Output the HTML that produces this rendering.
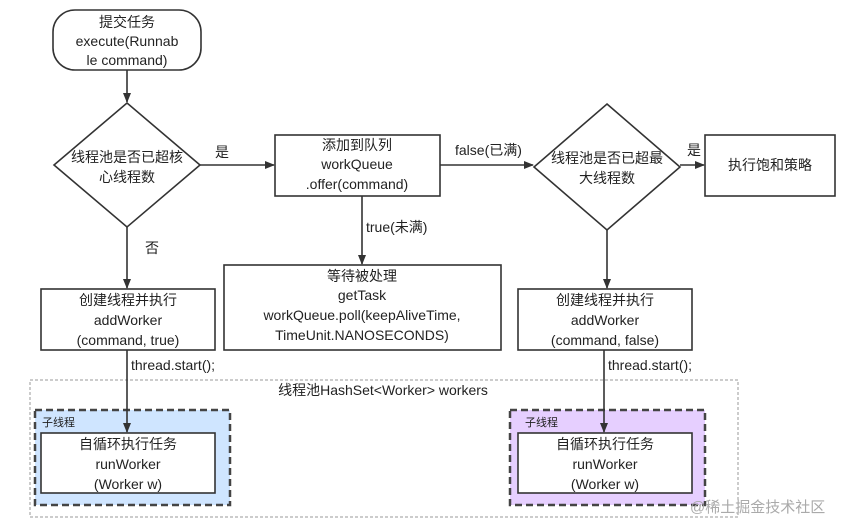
<!DOCTYPE html>
<html><head><meta charset="utf-8"><style>
body{margin:0;width:866px;height:532px;background:#fff;overflow:hidden}
svg{display:block}
text{font-family:"Liberation Sans","Noto Sans CJK SC",sans-serif;font-size:14px;fill:#222}
</style></head><body>
<svg width="866" height="532" viewBox="0 0 866 532">
<defs><marker id="a" markerWidth="10" markerHeight="10" refX="9" refY="5" orient="auto" markerUnits="userSpaceOnUse"><path d="M0,1 L10,5 L0,9 z" fill="#333"/></marker></defs>
<g stroke="#333" stroke-width="1.6" fill="#fff">
<rect x="53" y="10" width="148" height="60" rx="22"/>
<polygon points="127,103 200,165 127,227 54,165"/>
<rect x="275" y="135" width="165" height="61"/>
<rect x="224" y="265" width="277" height="85"/>
<polygon points="607,104 680,167 607,230 534,167"/>
<rect x="705" y="135" width="130" height="61"/>
<rect x="41" y="289" width="174" height="61"/>
<rect x="518" y="289" width="174" height="61"/>
</g>
<rect x="30" y="380" width="708" height="137" fill="none" stroke="#999" stroke-width="1" stroke-dasharray="3,2"/>
<rect x="35" y="410" width="195" height="95" fill="#cfe5ff" stroke="#444" stroke-width="2.5" stroke-dasharray="7,4"/>
<rect x="510" y="410" width="195" height="95" fill="#e6cfff" stroke="#444" stroke-width="2.5" stroke-dasharray="7,4"/>
<g stroke="#333" stroke-width="1.6" fill="#fff">
<rect x="41" y="433" width="174" height="60"/>
<rect x="518" y="433" width="174" height="60"/>
</g>
<g stroke="#333" stroke-width="1.6" fill="none" marker-end="url(#a)">
<line x1="127" y1="70" x2="127" y2="102"/>
<line x1="200" y1="165" x2="274" y2="165"/>
<line x1="127" y1="227" x2="127" y2="288"/>
<line x1="362" y1="196" x2="362" y2="264"/>
<line x1="440" y1="165" x2="533" y2="165"/>
<line x1="680" y1="165" x2="704" y2="165"/>
<line x1="607" y1="230" x2="607" y2="288"/>
<line x1="127" y1="350" x2="127" y2="432"/>
<line x1="604" y1="350" x2="604" y2="432"/>
</g>
<g text-anchor="middle">
<text x="127" y="27">提交任务</text>
<text x="127" y="46">execute(Runnab</text>
<text x="127" y="65">le command)</text>
<text x="127" y="162">线程池是否已超核</text>
<text x="127" y="182">心线程数</text>
<text x="357" y="150">添加到队列</text>
<text x="357" y="169">workQueue</text>
<text x="357" y="189">.offer(command)</text>
<text x="362" y="281">等待被处理</text>
<text x="362" y="300">getTask</text>
<text x="362" y="320">workQueue.poll(keepAliveTime,</text>
<text x="362" y="340">TimeUnit.NANOSECONDS)</text>
<text x="607" y="163">线程池是否已超最</text>
<text x="607" y="183">大线程数</text>
<text x="770" y="170">执行饱和策略</text>
<text x="128" y="305">创建线程并执行</text>
<text x="128" y="325">addWorker</text>
<text x="128" y="345">(command, true)</text>
<text x="605" y="305">创建线程并执行</text>
<text x="605" y="325">addWorker</text>
<text x="605" y="345">(command, false)</text>
<text x="383" y="395">线程池HashSet&lt;Worker&gt; workers</text>
<text x="128" y="449">自循环执行任务</text>
<text x="128" y="469">runWorker</text>
<text x="128" y="489">(Worker w)</text>
<text x="605" y="449">自循环执行任务</text>
<text x="605" y="469">runWorker</text>
<text x="605" y="489">(Worker w)</text>
</g>
<text x="215" y="157">是</text>
<text x="145" y="253">否</text>
<text x="366" y="232">true(未满)</text>
<text x="455" y="155">false(已满)</text>
<text x="687" y="155">是</text>
<text x="131" y="370">thread.start();</text>
<text x="608" y="370">thread.start();</text>
<text x="42" y="426" style="font-size:11px">子线程</text>
<text x="525" y="426" style="font-size:11px">子线程</text>
<text x="690" y="512" style="font-size:15px;fill:#aaa">@稀土掘金技术社区</text>
</svg>
</body></html>
